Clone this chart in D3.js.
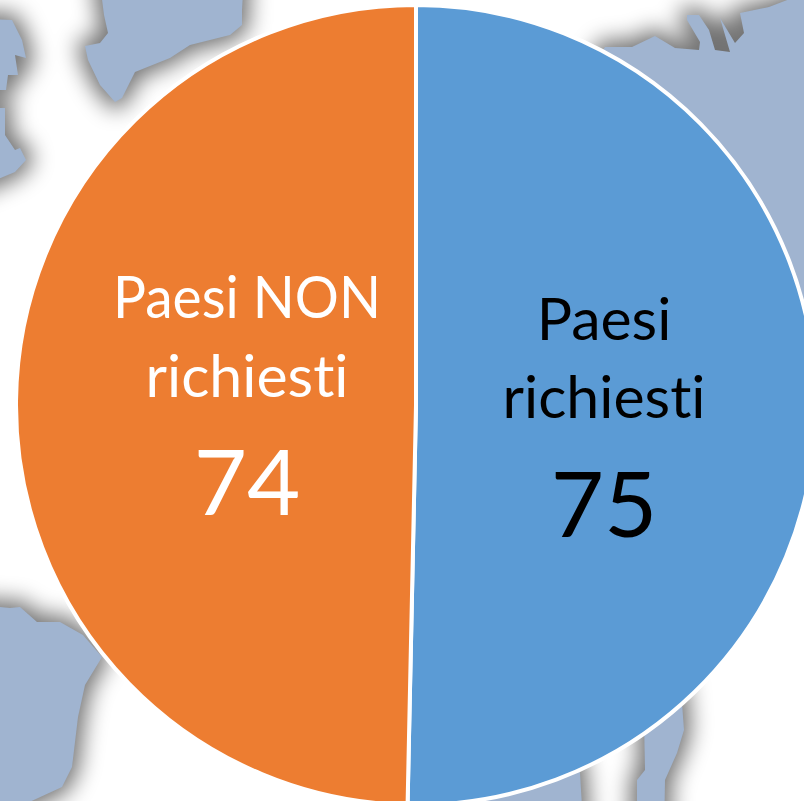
<!DOCTYPE html>
<html>
<head>
<meta charset="utf-8">
<script src="https://cdn.jsdelivr.net/npm/d3@7"></script>
<style>
  html, body { margin: 0; padding: 0; background: #fff; overflow: hidden; }
  svg { display: block; }
  text { font-family: Lato, "Open Sans", sans-serif; text-anchor: middle; font-variant-ligatures: none; }
</style>
</head>
<body>
<svg id="chart" width="804" height="801"></svg>
<script>
// chart data
const categories = ["Paesi richiesti", "Paesi NON richiesti"];
const labelLines = [["Paesi", "richiesti"], ["Paesi NON", "richiesti"]];
const values = [75, 74];
const sliceColors = ["#5b9bd5", "#ed7d31"];
const labelColors = ["#000000", "#ffffff"];

// world map fragments behind the pie (decoration only)
const landShapes = [
  [[97,-40],[104,15],[108,33],[100,43],[85,46],[88,60],[100,85],[115,102],[122,98],[135,72],[170,58],[190,45],[230,35],[242,25],[242,10],[245,-40]],
  [[-40,18],[12,20],[22,40],[26,58],[15,55],[18,75],[8,75],[6,90],[-40,90]],
  [[-40,108],[5,108],[5,135],[15,150],[20,148],[26,160],[15,172],[-40,195]],
  [[590,70],[605,47],[632,47],[655,36],[675,48],[699,50],[700,42],[687,20],[687,15],[699,15],[709,30],[715,50],[730,52],[720,18],[735,43],[744,33],[740,13],[769,7],[795,-3],[850,-20],[850,420],[600,300]],
  [[-40,603],[10,608],[20,607],[37,622],[60,622],[83,635],[102,657],[85,685],[78,717],[72,767],[62,787],[23,805],[-40,830]],
  [[570,740],[580,773],[584,840],[460,840],[470,740]],
  [[681,690],[684,730],[677,753],[665,780],[664,840],[637,840],[637,780],[645,770],[644,720]]
];

const svg = d3.select("#chart");

const defs = svg.append("defs");
defs.append("filter")
  .attr("id", "landBlur")
  .attr("filterUnits", "userSpaceOnUse")
  .attr("x", -100).attr("y", -100)
  .attr("width", 1100).attr("height", 1100)
  .attr("color-interpolation-filters", "sRGB")
  .append("feGaussianBlur")
  .attr("stdDeviation", 11);

const landLine = d3.line().curve(d3.curveLinearClosed);

// blurred dark copy first, the land itself on top
svg.append("g")
  .attr("filter", "url(#landBlur)")
  .attr("opacity", 0.55)
  .selectAll("path")
  .data(landShapes)
  .join("path")
  .attr("d", landLine)
  .attr("fill", "#000")
  .attr("stroke", "#000")
  .attr("stroke-width", 14);

svg.append("g")
  .selectAll("path")
  .data(landShapes)
  .join("path")
  .attr("d", landLine)
  .attr("fill", "#a0b4d0");

const cx = 416, cy = 405, radius = 400;

const pie = d3.pie().sort(null).value(d => d);
const arc = d3.arc().innerRadius(0).outerRadius(radius);
const arcs = pie(values);

const pieGroup = svg.append("g")
  .attr("transform", `translate(${cx},${cy})`);

pieGroup.selectAll("path")
  .data(arcs)
  .join("path")
  .attr("d", arc)
  .attr("fill", (d, i) => sliceColors[i])
  .attr("stroke", "#fff")
  .attr("stroke-width", 4)
  .attr("stroke-linejoin", "round");

// label radius differs per slice, the source labels were placed by hand
const labelRadius = [188, 169];
const labelDy = [-67, -85];

const labels = pieGroup.selectAll("g.label")
  .data(arcs)
  .join("g")
  .attr("class", "label")
  .attr("fill", (d, i) => labelColors[i])
  .attr("transform", (d, i) => {
    const a = (d.startAngle + d.endAngle) / 2;
    return `translate(${labelRadius[i] * Math.sin(a)},${-labelRadius[i] * Math.cos(a)})`;
  });

labels.each(function(d, i) {
  const g = d3.select(this);
  labelLines[i].forEach((line, j) => {
    const t = g.append("text")
      .attr("y", labelDy[i] + j * 78.5)
      .style("font-size", "59px")
      .text(line);
    // Lato caps run wider than the original font, squeeze the one long line
    if (line.includes(" ")) {
      t.attr("textLength", 268).attr("lengthAdjust", "spacingAndGlyphs");
    }
  });
  g.append("text")
    .attr("y", labelDy[i] + 197)
    .style("font-size", "92px")
    .text(d.value);
});
</script>
</body>
</html>
